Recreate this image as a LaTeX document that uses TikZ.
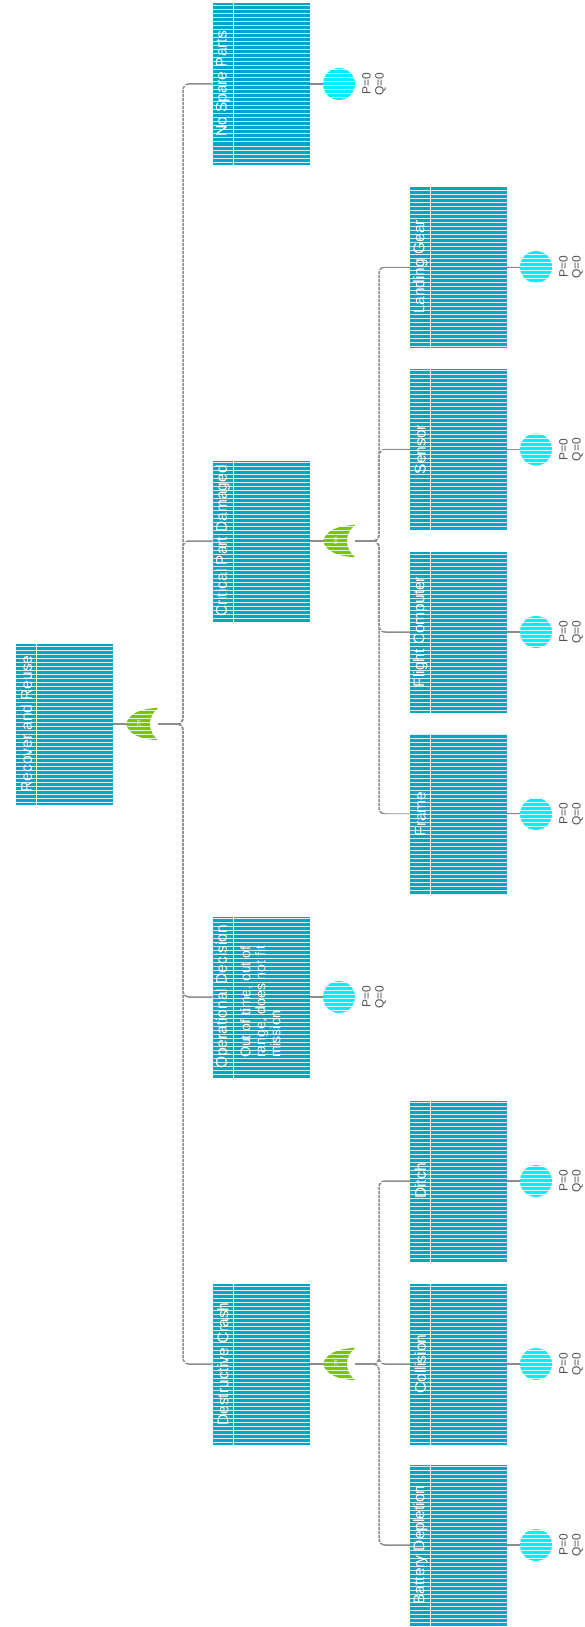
\documentclass[tikz,border=0pt]{standalone}
\usepackage{fontspec}
\setmainfont{Liberation Sans}
\definecolor{boxblue}{RGB}{0,165,200}
\definecolor{evcyan}{RGB}{0,238,255}
\definecolor{gategreen}{RGB}{122,196,0}
\definecolor{conngray}{RGB}{140,140,140}
\definecolor{labelgray}{RGB}{80,80,80}

% event box: name, x, y, title
\newcommand\ftevent[4]{%
  \node[ftbox] (#1) at (#2,#3) {};
  \draw[white, line width=0.9pt] ([xshift=21pt]#1.north west) -- ([xshift=21pt]#1.south west);
  \node[fttitle] (#1-t) at ([xshift=10.5pt]#1.west) {#4};
}
% OR gate, output on the left: name, x, y
\newcommand\orgate[3]{%
  \node[gatebox] (#1) at (#2,#3) {};
  \fill[gategreen] (#1.west) .. controls +(4,-11) and +(-18,1) .. (#1.north east)
     .. controls +(-11,9) and +(-11,-9) .. (#1.south east)
     .. controls +(-18,-1) and +(4,11) .. (#1.west) -- cycle;
  \node[gatetext] (#1-t) at ([xshift=-3pt]#1.center) {OR};
}

\begin{document}
\begin{tikzpicture}[x=1pt,y=-1pt,
  ftbox/.style={rectangle, fill=boxblue, minimum width=97pt, minimum height=161pt, inner sep=0pt},
  fttitle/.style={rotate=90, text=white, font=\fontsize{15.5}{18}\selectfont, inner sep=0pt},
  ftdesc/.style={rotate=90, text=white, font=\fontsize{14}{15}\selectfont, align=left, inner sep=0pt, anchor=north west},
  basic/.style={circle, fill=evcyan, minimum size=32pt, inner sep=0pt},
  gatebox/.style={rectangle, minimum width=32pt, minimum height=32pt, inner sep=0pt},
  gatetext/.style={rotate=90, text=white, font=\fontsize{5}{5}\selectfont, inner sep=0pt},
  conn/.style={draw=conngray, line width=1.5pt, rounded corners=6pt},
  prob/.style={rotate=90, text=labelgray, font=\fontsize{12}{13}\selectfont, align=center, inner sep=0pt},
  stripe/.style={white, line width=1pt, opacity=0.85}
]
\useasboundingbox (0,0) rectangle (584,1627);

% top event and its gate
\ftevent{root}{64.5}{724}{Recover and Reuse}
\orgate{g0}{142}{724}

% first level
\ftevent{nsp}{261}{84}{No Spare Parts}
\ftevent{cpd}{261}{541}{Critical Part Damaged}
\ftevent{opd}{261}{997}{Operational Decision}
\node[ftdesc] (opd-d) at (240,1058) {Out of time, out of\\range, does not fit\\mission};
\ftevent{dcr}{261}{1364}{Destructive Crash}
\orgate{g1}{339}{541}
\orgate{g2}{339}{1364}

% second level
\ftevent{lg}{458.5}{267}{Landing Gear}
\ftevent{sen}{458.5}{449.5}{Sensor}
\ftevent{fc}{458.5}{632}{Flight Computer}
\ftevent{fr}{458.5}{814}{Frame}
\ftevent{ditch}{458.5}{1181}{Ditch}
\ftevent{coll}{458.5}{1364}{Collision}
\ftevent{bat}{458.5}{1545}{Battery Depletion}

% basic event circles
\node[basic] (nsp-c) at (339,84) {};
\node[basic] (opd-c) at (339,997) {};
\foreach \e in {lg,sen,fc,fr,ditch,coll,bat}
  \node[basic] (\e-c) at ([xshift=77.5pt]\e.center) {};

% connectors
\draw[conn] (root.east) -- (g0.west);
\draw[conn] (cpd.east) -- (g1.west);
\draw[conn] (dcr.east) -- (g2.west);
\coordinate (b0) at (183,724);
\coordinate (b1) at (379,541);
\coordinate (b2) at (379,1364);
\foreach \c in {nsp,cpd,opd,dcr} \draw[conn] (g0.east) -- (b0) |- (\c.west);
\foreach \c in {lg,sen,fc,fr} \draw[conn] (g1.east) -- (b1) |- (\c.west);
\foreach \c in {ditch,coll,bat} \draw[conn] (g2.east) -- (b2) |- (\c.west);
\foreach \e in {nsp,opd,lg,sen,fc,fr,ditch,coll,bat}
  \draw[conn] (\e.east) -- (\e-c.west);

% scan-line banding
\foreach \y in {2,6,...,1626} \draw[stripe] (0,\y) -- (584,\y);

% probability labels
\foreach \e in {nsp,opd,lg,sen,fc,fr,ditch,coll,bat}
  \node[prob] (\e-p) at ([xshift=35pt]\e-c.center) {P=0\\Q=0};
\end{tikzpicture}
\end{document}
